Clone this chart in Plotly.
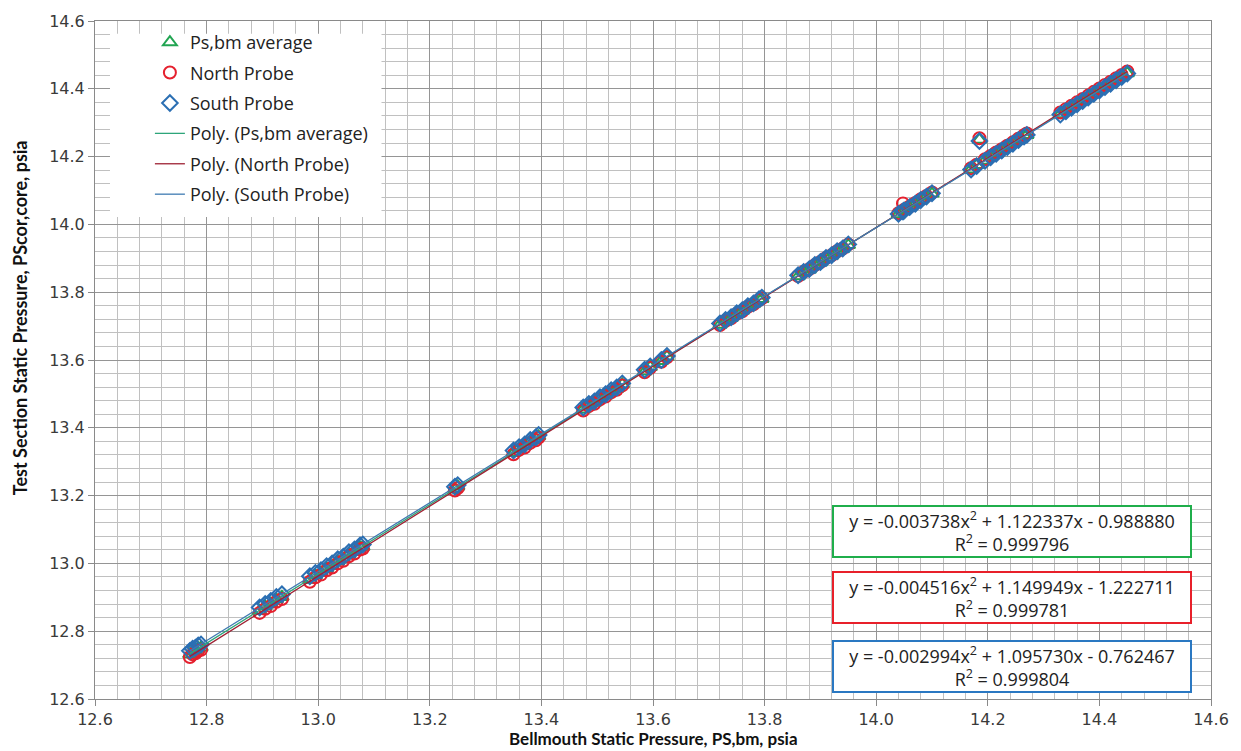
import numpy as np
import plotly.graph_objects as go

# ---------------- data ----------------
x_bm = [12.770, 12.775, 12.780, 12.785, 12.790,
        12.895, 12.905, 12.915, 12.925, 12.935,
        12.985, 12.995, 13.005, 13.015, 13.025, 13.035, 13.045, 13.055, 13.065, 13.075, 13.080,
        13.245, 13.250,
        13.350, 13.360, 13.370, 13.380, 13.390, 13.395,
        13.475, 13.485, 13.495, 13.505, 13.515, 13.525, 13.535, 13.545,
        13.585, 13.595, 13.615, 13.625,
        13.720, 13.730, 13.740, 13.750, 13.760, 13.770, 13.780, 13.790, 13.795,
        13.860, 13.870, 13.880, 13.890, 13.900, 13.910, 13.920, 13.930, 13.940, 13.950,
        14.040, 14.048, 14.050, 14.060, 14.070, 14.080, 14.090, 14.100,
        14.170, 14.180, 14.185,
        14.195, 14.205, 14.215, 14.225, 14.235, 14.245, 14.255, 14.265, 14.270,
        14.330, 14.340, 14.350, 14.360, 14.370, 14.380, 14.390, 14.400, 14.410, 14.420,
        14.430, 14.440, 14.450]

y_avg = [12.732, 12.740, 12.743, 12.750, 12.752,
         12.860, 12.873, 12.881, 12.894, 12.901,
         12.952, 12.965, 12.973, 12.986, 12.993, 13.006, 13.013, 13.027, 13.034, 13.047, 13.049,
         13.219, 13.227,
         13.326, 13.339, 13.346, 13.360, 13.367, 13.375,
         13.454, 13.467, 13.474, 13.487, 13.495, 13.508, 13.515, 13.528,
         13.566, 13.579, 13.597, 13.610,
         13.704, 13.717, 13.724, 13.737, 13.745, 13.758, 13.765, 13.778, 13.780,
         13.847, 13.860, 13.867, 13.880, 13.888, 13.901, 13.908, 13.921, 13.928, 13.939,
         14.030, 14.039, 14.043, 14.050, 14.063, 14.071, 14.084, 14.091,
         14.162, 14.175, 14.250,
         14.188, 14.201, 14.208, 14.221, 14.228, 14.241, 14.249, 14.262, 14.264,
         14.325, 14.338, 14.345, 14.358, 14.365, 14.378, 14.386, 14.399, 14.406, 14.419,
         14.426, 14.439, 14.446]

y_north = [12.724, 12.732, 12.735, 12.742, 12.745,
           12.854, 12.866, 12.874, 12.887, 12.895,
           12.946, 12.959, 12.967, 12.980, 12.988, 13.000, 13.008, 13.021, 13.029, 13.041, 13.044,
           13.215, 13.222,
           13.322, 13.335, 13.342, 13.356, 13.363, 13.371,
           13.451, 13.464, 13.471, 13.484, 13.492, 13.505, 13.512, 13.525,
           13.564, 13.577, 13.595, 13.608,
           13.703, 13.716, 13.723, 13.736, 13.744, 13.757, 13.764, 13.777, 13.782,
           13.848, 13.860, 13.868, 13.880, 13.889, 13.901, 13.909, 13.921, 13.929, 13.941,
           14.033, 14.062, 14.043, 14.053, 14.063, 14.074, 14.084, 14.094,
           14.166, 14.176, 14.254,
           14.192, 14.202, 14.212, 14.222, 14.232, 14.242, 14.253, 14.263, 14.268,
           14.330, 14.340, 14.350, 14.360, 14.370, 14.380, 14.391, 14.401, 14.411, 14.421,
           14.431, 14.441, 14.451]

y_south = [12.742, 12.748, 12.751, 12.758, 12.761,
           12.870, 12.880, 12.889, 12.901, 12.909,
           12.962, 12.972, 12.980, 12.992, 13.000, 13.012, 13.020, 13.033, 13.041, 13.053, 13.056,
           13.226, 13.231,
           13.333, 13.343, 13.351, 13.364, 13.372, 13.379,
           13.460, 13.470, 13.478, 13.490, 13.499, 13.511, 13.519, 13.531,
           13.571, 13.581, 13.600, 13.612,
           13.708, 13.718, 13.726, 13.738, 13.747, 13.759, 13.767, 13.779, 13.784,
           13.850, 13.860, 13.868, 13.880, 13.889, 13.901, 13.909, 13.921, 13.929, 13.941,
           14.031, 14.038, 14.041, 14.051, 14.061, 14.072, 14.082, 14.092,
           14.162, 14.172, 14.246,
           14.188, 14.198, 14.208, 14.218, 14.228, 14.238, 14.249, 14.259, 14.264,
           14.324, 14.334, 14.344, 14.354, 14.364, 14.374, 14.385, 14.395, 14.405, 14.415,
           14.425, 14.435, 14.445]

# trendline coefficients shown on the chart (a2, a1, a0)
coef_avg = [-0.003738, 1.122337, -0.988880]
coef_north = [-0.004516, 1.149949, -1.222711]
coef_south = [-0.002994, 1.095730, -0.762467]
r2_avg, r2_north, r2_south = 0.999796, 0.999781, 0.999804

x_ticks = [12.6, 12.8, 13.0, 13.2, 13.4, 13.6, 13.8, 14.0, 14.2, 14.4, 14.6]
y_ticks = [12.6, 12.8, 13.0, 13.2, 13.4, 13.6, 13.8, 14.0, 14.2, 14.4, 14.6]

# ---------------- styling ----------------
GREEN = "#22a552"
RED = "#e5202e"
BLUE = "#2b6fb3"
LGREEN = "#2ea57a"
LRED = "#9e2234"
LBLUE = "#3f7bb2"
TXT = "#3a3a3a"

fig = go.Figure()

fig.add_trace(go.Scatter(x=x_bm, y=y_avg, mode="markers", name="Ps,bm average",
                         legendgroup="a",
                         marker=dict(symbol="triangle-up-open", size=12, color=GREEN,
                                     line=dict(width=2, color=GREEN))))
fig.add_trace(go.Scatter(x=x_bm, y=y_north, mode="markers", name="North Probe",
                         legendgroup="b",
                         marker=dict(symbol="circle-open", size=12, color=RED,
                                     line=dict(width=2, color=RED))))
fig.add_trace(go.Scatter(x=x_bm, y=y_south, mode="markers", name="South Probe",
                         legendgroup="c",
                         marker=dict(symbol="diamond-open", size=12, color=BLUE,
                                     line=dict(width=2, color=BLUE))))

xl = np.linspace(min(x_bm), max(x_bm), 120)
for coef, nm, col, g in [(coef_avg, "Poly. (Ps,bm average)", LGREEN, "d"),
                         (coef_north, "Poly. (North Probe)", LRED, "e"),
                         (coef_south, "Poly. (South Probe)", LBLUE, "f")]:
    fig.add_trace(go.Scatter(x=xl, y=np.polyval(coef, xl), mode="lines", name=nm,
                             legendgroup=g, line=dict(color=col, width=1.3)))

def eq_text(c, r2):
    s1 = "+" if c[1] >= 0 else "-"
    s0 = "+" if c[2] >= 0 else "-"
    return (f"y = {c[0]:.6f}x<sup>2</sup> {s1} {abs(c[1]):.6f}x {s0} {abs(c[2]):.6f}"
            f"<br>R<sup>2</sup> = {r2:.6f}")

for c, r2, col, yc in [(coef_avg, r2_avg, "#1fae4b", 0.247),
                       (coef_north, r2_north, "#e8202a", 0.150),
                       (coef_south, r2_south, "#2a78c2", 0.048)]:
    fig.add_annotation(xref="paper", yref="paper", x=0.822, y=yc, xanchor="center",
                       yanchor="middle", text=eq_text(c, r2), showarrow=False,
                       align="center", width=356, borderpad=0,
                       bgcolor="white", bordercolor=col, borderwidth=2,
                       font=dict(family="Open Sans", size=18, color="#222222"))

# white panel behind the legend (covers the gridlines as in the original)
fig.add_shape(type="rect", xref="paper", yref="paper", layer="above",
              x0=(110 - 95) / 1118, x1=(382 - 95) / 1118,
              y0=(699 - 212) / 685, y1=(699 - 27) / 685,
              fillcolor="white", line=dict(width=0))

# axis titles as annotations
fig.add_annotation(xref="paper", yref="paper", x=0.5, y=-0.058,
                   xanchor="center", yanchor="middle", showarrow=False,
                   text="<b>Bellmouth Static Pressure, PS,bm, psia</b>",
                   font=dict(family="Lato", size=17, color="#111111"))
fig.add_annotation(xref="paper", yref="paper", x=-0.067, y=0.562,
                   xanchor="center", yanchor="middle", showarrow=False, textangle=-90,
                   text="<b>Test Section Static Pressure, PScor,core, psia</b>",
                   font=dict(family="Lato", size=18, color="#111111"))

axis_common = dict(
    showgrid=True, gridcolor="#959595", gridwidth=1,
    minor=dict(dtick=0.04, showgrid=True, gridcolor="#c0c0c0", gridwidth=1),
    showline=True, linecolor="#8a8a8a", linewidth=1, mirror=True,
    ticks="outside", ticklen=6, tickcolor="#8a8a8a", zeroline=False,
    tickfont=dict(family="DejaVu Sans", size=16, color=TXT),
    range=[12.6, 14.6], tickformat=".1f",
)

fig.update_xaxes(**axis_common, tickvals=x_ticks, ticklabelstandoff=0)
fig.update_yaxes(**axis_common, tickvals=y_ticks)

fig.update_layout(
    width=1241, height=751,
    margin=dict(l=95, r=28, t=14, b=52),
    paper_bgcolor="white", plot_bgcolor="white",
    showlegend=True,
    legend=dict(x=(150 - 95) / 1118, y=(699 - 17) / 685, xanchor="left", yanchor="top",
                bgcolor="rgba(0,0,0,0)", borderwidth=0, tracegroupgap=4,
                font=dict(family="Open Sans", size=18, color="#222222")),
)

fig.write_html("out.html")
